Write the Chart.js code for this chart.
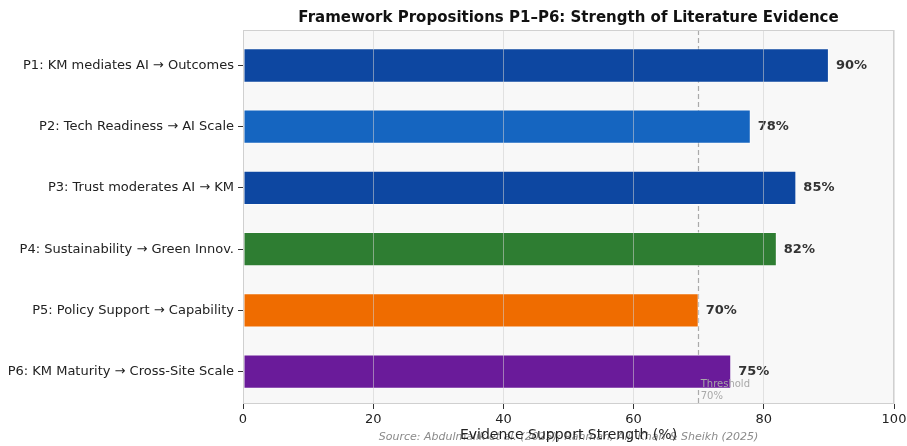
<!DOCTYPE html>
<html>
<head>
<meta charset="utf-8">
<script src="https://cdn.jsdelivr.net/npm/chart.js@4"></script>
<style>
  body { margin: 0; background: #fff; }
  #wrap { width: 907px; height: 446px; }
</style>
</head>
<body>
<div id="wrap"><canvas id="propChart" width="907" height="446"></canvas></div>
<script>
const propositions = [
    "P1: KM mediates AI \u2192 Outcomes",
    "P2: Tech Readiness \u2192 AI Scale",
    "P3: Trust moderates AI \u2192 KM",
    "P4: Sustainability \u2192 Green Innov.",
    "P5: Policy Support \u2192 Capability",
    "P6: KM Maturity \u2192 Cross-Site Scale"
];
const strength = [90, 78, 85, 82, 70, 75];
const barColors = ["#0D47A1", "#1565C0", "#0D47A1", "#2E7D32", "#EF6C00", "#6A1B9A"];
const threshold = 70;
const xTicks = [0, 20, 40, 60, 80, 100];

const FONT = "'DejaVu Sans', sans-serif";

// plot background + border
const plotFrame = {
    id: 'plotFrame',
    beforeDraw(chart) {
        const { ctx, chartArea: a } = chart;
        ctx.save();
        ctx.fillStyle = '#f8f8f8';
        ctx.fillRect(a.left, a.top, a.right - a.left, a.bottom - a.top);
        ctx.restore();
    },
    afterDraw(chart) {
        const { ctx, chartArea: a } = chart;
        ctx.save();
        ctx.strokeStyle = '#d0d0d0';
        ctx.lineWidth = 1;
        ctx.strokeRect(a.left + 0.5, a.top + 0.5, a.right - a.left - 1, a.bottom - a.top - 1);
        ctx.restore();
    }
};

// threshold line (behind bars), value labels and the texts around the plot
const annotations = {
    id: 'annotations',
    beforeDatasetsDraw(chart) {
        const { ctx, chartArea: a, scales } = chart;
        const x = scales.x.getPixelForValue(threshold);
        ctx.save();
        ctx.strokeStyle = '#aaaaaa';
        ctx.lineWidth = 1.2;
        ctx.setLineDash([5, 3]);
        ctx.beginPath();
        ctx.moveTo(Math.round(x) - 0.5, a.top);
        ctx.lineTo(Math.round(x) - 0.5, a.bottom);
        ctx.stroke();
        ctx.restore();
    },
    afterDatasetsDraw(chart) {
        const { ctx, chartArea: a, scales } = chart;
        const x = scales.x.getPixelForValue(threshold);
        ctx.save();
        ctx.fillStyle = '#a8a8a8';
        ctx.font = '10px ' + FONT;
        ctx.textAlign = 'left';
        ctx.textBaseline = 'middle';
        ctx.fillText('Threshold', x + 2, a.bottom - 20);
        ctx.fillText(threshold + '%', x + 2, a.bottom - 8);

        // value labels
        const meta = chart.getDatasetMeta(0);
        ctx.fillStyle = '#333333';
        ctx.font = 'bold 13px ' + FONT;
        meta.data.forEach((bar, i) => {
            ctx.fillText(strength[i] + '%', bar.x + 7, bar.y);
        });
        ctx.restore();
    },
    afterDraw(chart) {
        const { ctx, chartArea: a } = chart;
        const cx = (a.left + a.right) / 2;
        ctx.save();
        ctx.textAlign = 'center';
        ctx.textBaseline = 'middle';
        ctx.fillStyle = '#111';
        ctx.font = 'bold 15px ' + FONT;
        ctx.fillText('Framework Propositions P1\u2013P6: Strength of Literature Evidence', cx, 18);

        ctx.fillStyle = '#8a8a8a';
        ctx.font = 'italic 11px ' + FONT;
        ctx.fillText('Source: Abdulmalik et al. (2025); Rahman, Ali, Khan & Sheikh (2025)', cx, 437);

        ctx.fillStyle = '#222';
        ctx.font = '14px ' + FONT;
        ctx.fillText('Evidence Support Strength (%)', cx, 435);
        ctx.restore();
    }
};

new Chart(document.getElementById('propChart').getContext('2d'), {
    type: 'bar',
    data: {
        datasets: [{
            data: strength.map((v, i) => ({ x: v, y: i })),
            backgroundColor: barColors,
            borderColor: 'rgba(255,255,255,0.6)',
            borderWidth: 1,
            borderSkipped: false,
            barPercentage: 0.56,
            categoryPercentage: 1.0
        }]
    },
    options: {
        indexAxis: 'y',
        responsive: false,
        animation: false,
        devicePixelRatio: 1,
        layout: { padding: { top: 30, right: 13, left: 0, bottom: 0 } },
        plugins: {
            legend: { display: false },
            title: { display: false },
            tooltip: { enabled: false }
        },
        scales: {
            x: {
                type: 'linear',
                min: 0,
                max: 100,
                afterBuildTicks(scale) {
                    scale.ticks = xTicks.map(v => ({ value: v }));
                },
                afterFit(scale) {
                    scale.height = 42;
                    scale.paddingRight = 0;
                },
                grid: {
                    z: 1,
                    color: 'rgba(205,205,205,0.55)',
                    lineWidth: 1,
                    drawTicks: true,
                    tickLength: 5,
                    tickColor: '#333'
                },
                border: { display: false },
                ticks: {
                    color: '#222',
                    font: { family: FONT, size: 13 },
                    padding: 3,
                    maxRotation: 0
                }
            },
            y: {
                type: 'linear',
                reverse: true,
                offset: false,
                min: -0.58,
                max: 5.53,
                afterBuildTicks(scale) {
                    scale.ticks = propositions.map((p, i) => ({ value: i }));
                },
                afterFit(scale) { scale.width = 243; },
                grid: {
                    offset: false,
                    drawOnChartArea: false,
                    drawTicks: true,
                    tickLength: 5,
                    tickColor: '#333'
                },
                border: { display: false },
                ticks: {
                    color: '#222',
                    font: { family: FONT, size: 13 },
                    padding: 4,
                    callback: v => propositions[v]
                }
            }
        }
    },
    plugins: [plotFrame, annotations]
});
</script>
</body>
</html>
